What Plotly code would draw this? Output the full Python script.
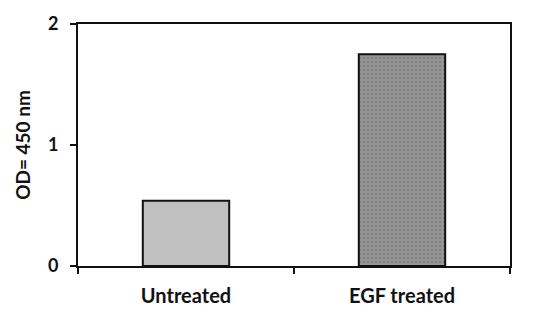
import plotly.graph_objects as go

# Absorbance readings per condition
conditions = ["Untreated", "EGF treated"]
od_values = [0.54, 1.75]

fig = go.Figure()

# Untreated: plain light-grey bar
fig.add_trace(go.Bar(
    x=[conditions[0]], y=[od_values[0]],
    width=0.4,
    marker=dict(color="#c0c0c0", line=dict(color="#111111", width=2)),
    showlegend=False,
))

# EGF treated: dark stippled bar
fig.add_trace(go.Bar(
    x=[conditions[1]], y=[od_values[1]],
    width=0.4,
    marker=dict(
        color="#8c8c8c",
        line=dict(color="#111111", width=2),
        pattern=dict(shape=".", fgcolor="#666666", bgcolor="#979797",
                     size=4, solidity=0.3),
    ),
    showlegend=False,
))

font_family = "Lato, 'Open Sans', sans-serif"

fig.update_layout(
    width=535, height=323,
    margin=dict(l=78, r=25, t=18, b=57),
    paper_bgcolor="white", plot_bgcolor="white",
    bargap=0.6,
    font=dict(family=font_family, color="#111111"),
    xaxis=dict(
        type="category",
        categoryorder="array", categoryarray=conditions,
        range=[-0.5, 1.5],
        showline=True, linecolor="#111111", linewidth=2, mirror=True,
        ticks="outside", ticklen=6, tickwidth=2, tickcolor="#111111",
        tickson="boundaries",
        ticklabelstandoff=11,
        tickfont=dict(size=20, family=font_family, weight="bold"),
        showgrid=False, zeroline=False,
    ),
    yaxis=dict(
        range=[0, 2], dtick=1, tick0=0,
        showline=True, linecolor="#111111", linewidth=2, mirror=True,
        ticks="outside", ticklen=6, tickwidth=2, tickcolor="#111111",
        ticklabelstandoff=8,
        tickfont=dict(size=18, family=font_family, weight="bold"),
        title=dict(text="OD= 450 nm", standoff=12,
                   font=dict(size=19, family=font_family, weight="bold")),
        showgrid=False, zeroline=False,
    ),
)

fig.write_html("out.html")
